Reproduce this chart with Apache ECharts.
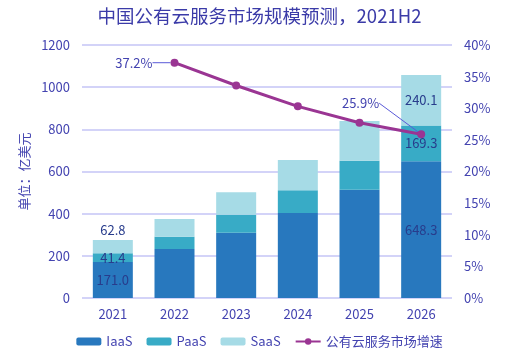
<!DOCTYPE html>
<html><head><meta charset="utf-8">
<script src="https://cdn.jsdelivr.net/npm/echarts@6/dist/echarts.min.js"></script>
<style>html,body{margin:0;padding:0;background:#fff}#c{width:519px;height:359px}</style>
</head><body><div id="c"></div>
<script>
const categories = ['2021','2022','2023','2024','2025','2026'];
const iaas = [171.0, 232, 310, 403, 514, 648.3];
const paas = [41.4, 59, 85, 108, 137, 169.3];
const saas = [62.8, 84, 106, 144, 189, 240.1];
const growth = [null, 37.2, 33.6, 30.3, 27.7, 25.9];
const labelledIdx = [0, 5];

const txt = '#4343b0';
const labelColor = '#283c8c';
const font = "'Noto Sans CJK SC', 'Open Sans', sans-serif";

function barData(vals, posFn) {
  return vals.map((v, i) => {
    if (labelledIdx.includes(i)) {
      return { value: v, label: { show: true, position: posFn(i), formatter: (p) => p.value.toFixed(1) } };
    }
    return { value: v };
  });
}

const chart = echarts.init(document.getElementById('c'));
chart.setOption({
  animation: false,
  textStyle: { fontFamily: font },
  title: {
    text: '中国公有云服务市场规模预测，2021H2',
    left: 'center', top: 2,
    textStyle: { color: '#3b3ba8', fontSize: 18.5, fontWeight: 'normal', fontFamily: font }
  },
  legend: {
    bottom: 6, left: 'center', itemWidth: 25, itemHeight: 8, itemGap: 14,
    textStyle: { color: txt, fontSize: 13, fontFamily: font },
    data: ['IaaS', 'PaaS', 'SaaS', '公有云服务市场增速']
  },
  grid: { left: 82, right: 67, top: 45, bottom: 61 },
  xAxis: {
    type: 'category', data: categories,
    axisLine: { show: false }, axisTick: { show: false },
    axisLabel: { color: txt, fontSize: 13, margin: 10 }
  },
  yAxis: [{
    type: 'value', min: 0, max: 1200, interval: 200,
    name: '单位：亿美元', nameLocation: 'middle', nameGap: 35,
    nameTextStyle: { color: txt, fontSize: 13 },
    axisLabel: { color: txt, fontSize: 13, margin: 12, formatter: (v) => String(v) },
    axisLine: { show: false }, axisTick: { show: false },
    splitLine: { lineStyle: { color: '#c4c4f6', width: 1.5 } }
  }, {
    type: 'value', min: 0, max: 40, interval: 5, position: 'right',
    axisLabel: { color: txt, fontSize: 13, margin: 12, formatter: '{value}%' },
    axisLine: { show: false }, axisTick: { show: false }, splitLine: { show: false }
  }],
  series: [
    { name: 'IaaS', type: 'bar', stack: 't', barWidth: 40, itemStyle: { color: '#2878be' },
      label: { color: labelColor, fontSize: 13 },
      data: barData(iaas, () => 'inside') },
    { name: 'PaaS', type: 'bar', stack: 't', itemStyle: { color: '#38abc6' },
      label: { color: labelColor, fontSize: 13 },
      data: barData(paas, () => 'inside') },
    { name: 'SaaS', type: 'bar', stack: 't', itemStyle: { color: '#a6dbe6' },
      label: { color: labelColor, fontSize: 13, distance: 3 },
      data: barData(saas, (i) => i === 0 ? 'top' : 'inside') },
    { name: '公有云服务市场增速', type: 'line', yAxisIndex: 1,
      symbol: 'circle', symbolSize: 8,
      lineStyle: { color: '#9a3593', width: 3 }, itemStyle: { color: '#9a3593' },
      data: growth.map((v, i) => {
        if (i === 1 || i === 5) {
          return { value: v, label: { show: true, position: 'left', distance: 14,
            color: txt, fontSize: 13, formatter: (p) => p.value.toFixed(1) + '%' } };
        }
        return v;
      }),
      labelLine: { show: true, lineStyle: { color: '#5a5ad8', width: 1 } },
      labelLayout: (p) => {
        if (p.dataIndex === 5) return { dx: -24, dy: -31 };
        return { dx: -4 };
      },
      z: 5
    }
  ]
});
</script></body></html>
